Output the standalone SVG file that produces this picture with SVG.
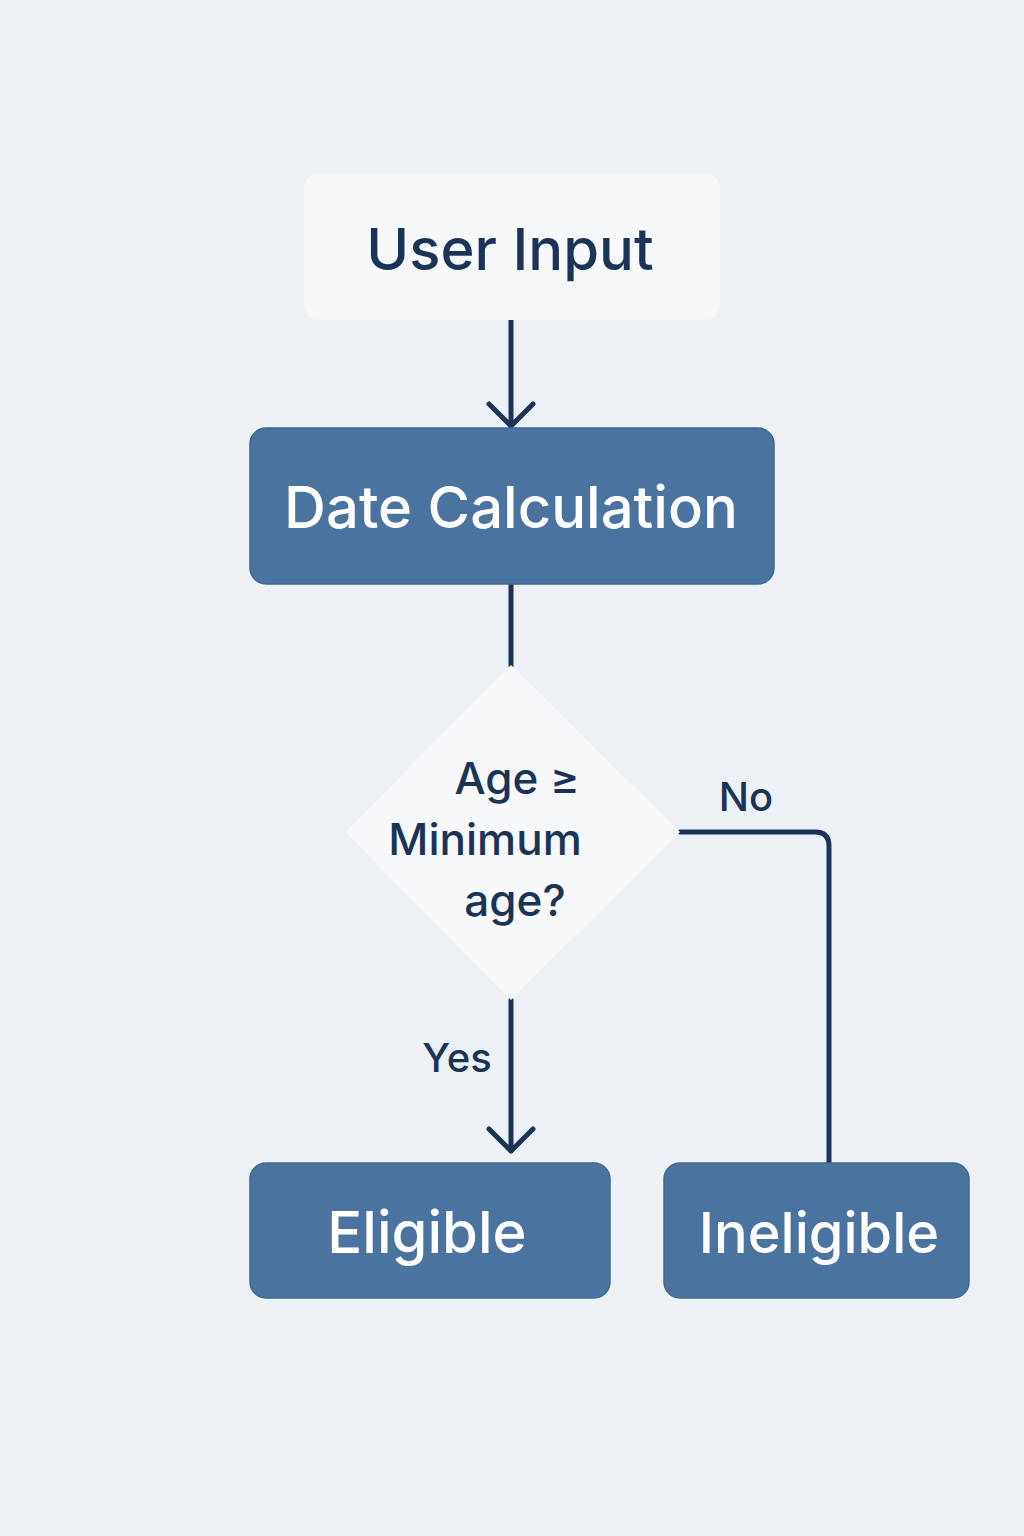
<svg xmlns="http://www.w3.org/2000/svg" width="1024" height="1536" viewBox="0 0 1024 1536">
<style>
.lt{fill:#f7f8f9}
.dk{fill:#4a739f;stroke:#3f6892;stroke-width:1.5}
.t{font-family:Inter,"Noto Sans",sans-serif;font-weight:500;text-anchor:middle}
.td{fill:#1c3358}
.tw{fill:#ffffff}
.c{fill:none;stroke:#1c3358;stroke-width:5;stroke-linecap:round;stroke-linejoin:round}
</style>
<rect width="1024" height="1536" fill="#edf1f6"/>
<g id="connectors">
<path class="c" d="M511 320V426M489 404L511 426L533 404"/>
<path class="c" d="M511 584V666"/>
<path class="c" d="M511 1000V1151M489 1129L511 1151L533 1129"/>
<path class="c" d="M680 832H815Q829 832 829 846V1163"/>
<text class="t td" x="746" y="811" font-size="40">No</text>
<text class="t td" x="457" y="1072" font-size="40">Yes</text>
</g>
<g id="user-input"><rect class="lt" x="304" y="174" width="416" height="146" rx="14"/><text class="t td" x="510" y="270" font-size="58">User Input</text></g>
<g id="date-calc"><rect class="dk" x="250" y="428" width="524" height="156" rx="16"/><text class="t tw" x="511" y="528" font-size="58">Date Calculation</text></g>
<g id="decision"><path class="lt" d="M511 665L680 832L511 1000L345 832Z" stroke-linejoin="round"/>
<text class="t td" font-size="44"><tspan x="517" y="794">Age ≥</tspan><tspan x="485" y="855">Minimum</tspan><tspan x="515" y="916">age?</tspan></text></g>
<g id="eligible"><rect class="dk" x="250" y="1163" width="360" height="135" rx="16"/><text class="t tw" x="427" y="1253" font-size="58">Eligible</text></g>
<g id="ineligible"><rect class="dk" x="664" y="1163" width="305" height="135" rx="16"/><text class="t tw" x="819" y="1253" font-size="56">Ineligible</text></g>
</svg>
